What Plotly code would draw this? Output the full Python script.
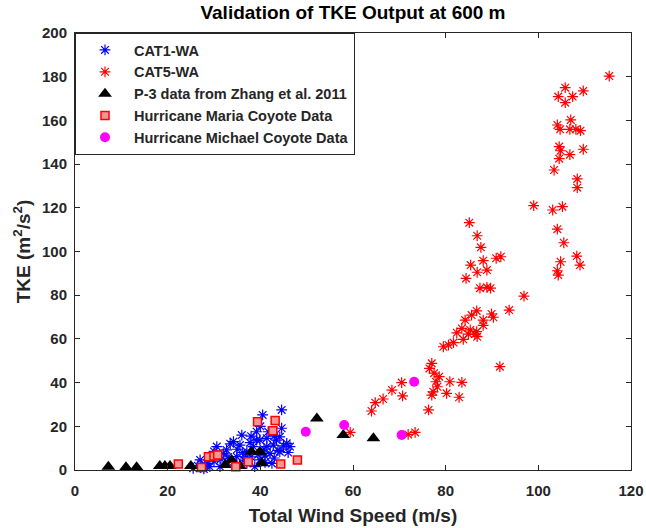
import plotly.graph_objects as go

# CAT1-WA (blue asterisks)
cat1_x = [25.5, 26.5, 27.0, 27.8, 28.5, 29.1, 29.1, 30.0, 30.6, 31.3, 31.5, 32.0, 32.7, 33.0, 33.5,
          34.2, 34.9, 34.9, 35.6, 36.0, 36.2, 36.5, 37.1, 37.1, 37.8, 38.0, 38.5, 38.8, 39.2, 39.2,
          39.9, 39.9, 40.5, 40.8, 41.0, 41.4, 41.4, 41.7, 42.1, 42.5, 42.8, 43.0, 43.5, 43.8, 44.2,
          44.2, 44.6, 44.6, 45.0, 45.7, 46.4, 46.0, 40.0, 38.0, 35.0, 33.0, 30.0, 28.0, 36.8, 39.5,
          41.0, 43.0]
cat1_y = [0.8, 2.0, 4.6, 0.5, 3.0, 6.1, 1.5, 8.5, 10.7, 1.5, 5.0, 7.5, 9.2, 3.5, 12.0,
          13.0, 6.1, 2.3, 11.4, 16.0, 8.0, 4.5, 8.4, 3.1, 12.5, 6.0, 10.7, 1.5, 17.5, 13.7,
          13.7, 4.6, 25.2, 9.5, 6.5, 10.7, 14.5, 17.5, 7.6, 3.0, 11.4, 15.5, 13.7, 9.0, 8.4,
          15.2, 19.1, 27.5, 11.0, 12.2, 10.7, 8.0, 20.0, 15.5, 9.5, 6.0, 4.0, 2.5, 5.5, 7.0,
          3.5, 5.5]

# CAT5-WA (red asterisks)
cat5_x = [115.3, 105.8, 109.7, 104.3, 107.4, 105.8, 107.0, 104.1, 104.7, 106.8, 108.1, 109.1, 104.5,
          104.8, 106.8, 104.5, 109.7, 103.4, 108.4, 108.4, 99.0, 103.1, 105.2, 104.1, 105.5, 108.3,
          109.0, 104.8, 104.1, 104.3, 85.1, 86.8, 87.6, 88.1, 90.9, 91.9, 85.4, 86.8, 88.9, 84.4,
          87.4, 88.9, 89.7, 96.9, 93.7, 86.7, 85.6, 89.9, 90.3, 84.2, 88.1, 88.1, 86.7, 85.3,
          83.5, 82.4, 84.9, 86.3, 83.8, 86.8, 81.7, 80.6, 79.5, 91.7, 77.0, 76.5, 77.5, 78.6,
          80.9, 83.5, 77.9, 78.2, 77.3, 80.2, 77.0, 82.9, 70.5, 68.4, 70.7, 66.5, 76.3, 64.8,
          64.0, 59.4, 71.9, 73.4]
cat5_y = [180.3, 175.0, 173.5, 170.9, 170.9, 168.1, 160.2, 157.9, 155.9, 155.9, 155.9, 155.3, 148.0,
          146.1, 144.3, 142.5, 146.8, 137.3, 133.2, 129.2, 121.0, 119.0, 120.5, 110.2, 104.0, 97.9,
          93.8, 95.3, 91.2, 89.2, 113.2, 107.2, 101.9, 95.8, 96.9, 97.6, 93.8, 90.5, 91.5, 87.7,
          83.2, 83.6, 83.2, 79.6, 73.2, 72.8, 70.9, 71.4, 69.9, 68.6, 68.6, 66.2, 63.3, 64.1,
          64.8, 62.8, 62.2, 62.2, 59.8, 61.0, 58.3, 57.2, 56.4, 47.3, 48.8, 46.5, 44.3, 42.7,
          40.4, 40.1, 40.4, 38.1, 35.8, 35.1, 34.3, 33.3, 40.0, 36.6, 33.9, 32.5, 27.5, 30.8,
          27.0, 17.2, 16.3, 17.2]

# P-3 data from Zhang et al. 2011 (black triangles)
p3_x = [7.2, 11.0, 13.3, 18.3, 19.4, 20.5, 25.0, 32.4, 33.8, 35.6, 38.1, 39.9, 40.3, 52.2, 57.9, 64.4]
p3_y = [1.5, 1.3, 1.3, 1.8, 1.8, 1.8, 1.8, 2.3, 4.6, 1.8, 8.4, 8.4, 3.1, 23.6, 16.0, 14.5]

# Hurricane Maria Coyote Data (red squares)
maria_x = [22.3, 27.3, 28.8, 30.0, 30.8, 34.7, 37.4, 39.4, 43.2, 42.7, 44.4, 48.0]
maria_y = [2.7, 1.1, 6.1, 6.4, 6.9, 1.5, 3.8, 22.1, 22.6, 18.0, 2.7, 4.6]

# Hurricane Michael Coyote Data (magenta circles)
michael_x = [49.8, 58.1, 70.5, 73.2]
michael_y = [17.5, 20.6, 16.0, 40.4]

x_ticks = [0, 20, 40, 60, 80, 100, 120]
y_ticks = [0, 20, 40, 60, 80, 100, 120, 140, 160, 180, 200]

FONT = "Liberation Sans, Arial, sans-serif"
AX = "#262626"

fig = go.Figure()
fig.add_trace(go.Scatter(x=cat1_x, y=cat1_y, mode="markers", name="<b>CAT1-WA</b>",
                         marker=dict(symbol="asterisk-open", size=9, color="blue",
                                     line=dict(color="blue", width=1.2)), cliponaxis=False))
fig.add_trace(go.Scatter(x=cat5_x, y=cat5_y, mode="markers", name="<b>CAT5-WA</b>",
                         marker=dict(symbol="asterisk-open", size=9, color="red",
                                     line=dict(color="red", width=1.2)), cliponaxis=False))
fig.add_trace(go.Scatter(x=p3_x, y=p3_y, mode="markers", name="<b>P-3 data from Zhang et al. 2011</b>",
                         marker=dict(symbol="triangle-up", size=12, color="black",
                                     line=dict(color="black", width=0)), cliponaxis=False))
fig.add_trace(go.Scatter(x=maria_x, y=maria_y, mode="markers", name="<b>Hurricane Maria Coyote Data</b>",
                         marker=dict(symbol="square", size=8, color="rgb(242,150,150)",
                                     line=dict(color="red", width=1.5)), cliponaxis=False))
fig.add_trace(go.Scatter(x=michael_x, y=michael_y, mode="markers", name="<b>Hurricane Michael Coyote Data</b>",
                         marker=dict(symbol="circle", size=10, color="magenta",
                                     line=dict(color="magenta", width=0)), cliponaxis=False))

axis_common = dict(showline=True, linecolor=AX, linewidth=1, mirror="ticks", ticks="inside",
                   ticklen=5, tickcolor=AX, showgrid=False, zeroline=False, automargin=False,
                   tickfont=dict(family=FONT, size=15, color=AX))

fig.update_layout(
    width=646, height=528,
    margin=dict(l=75, r=15, t=33, b=58),
    paper_bgcolor="white", plot_bgcolor="white",
    font=dict(family=FONT, color=AX),
    title=dict(text="<b>Validation of TKE Output at 600 m</b>", x=0.5464, xanchor="center",
               y=0.976, yanchor="middle", font=dict(family=FONT, size=19, color="#000000")),
    xaxis=dict(range=[0, 120], tickvals=x_ticks, ticktext=[f"<b>{v}</b>" for v in x_ticks],
               ticklabelstandoff=7,
               title=dict(text="<b>Total Wind Speed (m/s)</b>", font=dict(family=FONT, size=19, color=AX),
                          standoff=10),
               **axis_common),
    yaxis=dict(range=[0, 200], tickvals=y_ticks, ticktext=[f"<b>{v}</b>" for v in y_ticks],
               ticklabelstandoff=4,
               title=dict(text="<b>TKE (m<sup>2</sup>/s<sup>2</sup>)</b>", font=dict(family=FONT, size=19, color=AX),
                          standoff=6),
               **axis_common),
    legend=dict(x=0, y=1, xanchor="left", yanchor="top", bordercolor=AX, borderwidth=1,
                bgcolor="white", itemwidth=48, font=dict(family=FONT, size=14.5, color=AX)),
    showlegend=True,
)

fig.write_html("out.html")
